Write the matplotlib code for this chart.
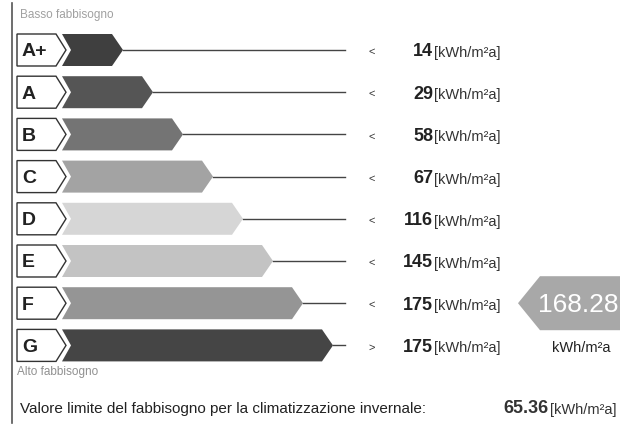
import matplotlib
matplotlib.use('Agg')
import matplotlib.pyplot as plt
import matplotlib.patches as patches

# Energy classes, limits and bar shades (scanned, grayscale)
classes = ['A+', 'A', 'B', 'C', 'D', 'E', 'F', 'G']
limits = ['14', '29', '58', '67', '116', '145', '175', '175']
signs = ['<', '<', '<', '<', '<', '<', '<', '>']
shades = ['#3f3f3f', '#555555', '#747474', '#a3a3a3', '#d6d6d6', '#c3c3c3', '#959595', '#454545']
building_value = '168.28'
building_class = 'F'
limit_value = '65.36'

plt.rcParams['font.family'] = ['Liberation Sans', 'DejaVu Sans']

def main():
    fig = plt.figure(figsize=(6.2, 4.27), dpi=100)
    ax = fig.add_axes([0, 0, 1, 1])
    ax.set_xlim(0, 620)
    ax.set_ylim(427, 0)
    ax.axis('off')

    # left rule
    ax.plot([12, 12], [4, 424], color='#555555', lw=1.2)

    ax.text(20, 15, 'Basso fabbisogno', fontsize=8.5, color='#a0a0a0', va='center')
    ax.text(17, 372, 'Alto fabbisogno', fontsize=8.5, color='#909090', va='center')

    h = 16
    for i, (cls, lim, sg, col) in enumerate(zip(classes, limits, signs, shades)):
        yc = 51 + i * 42.2
        tip = 123 + i * 30
        # class label box
        box = [(17, yc - h), (56, yc - h), (66, yc), (56, yc + h), (17, yc + h)]
        ax.add_patch(patches.Polygon(box, facecolor='white', edgecolor='#333333', lw=1.0))
        ax.text(22, yc + 1, cls, fontsize=14, fontweight='bold', color='#222222', va='center')
        # coloured arrow bar
        bar = [(62, yc - h), (tip - 11, yc - h), (tip, yc), (tip - 11, yc + h),
               (62, yc + h), (71, yc)]
        ax.add_patch(patches.Polygon(bar, facecolor=col, edgecolor='none'))
        ax.plot([tip, 345], [yc, yc], color='#444444', lw=1.0)
        # limit text
        ax.text(372, yc + 1, sg, fontsize=8, color='#333333', va='center', ha='center')
        ax.text(433, yc + 1, lim, fontsize=13, fontweight='bold', color='#222222',
                va='center', ha='right')
        ax.text(434, yc + 2, '[kWh/m²a]', fontsize=10.5, color='#333333', va='center', ha='left')

    # building indicator arrow
    yb = 51 + classes.index(building_class) * 42.2
    ind = [(518, yb), (540, yb - 27), (620, yb - 27), (620, yb + 27), (540, yb + 27)]
    ax.add_patch(patches.Polygon(ind, facecolor='#a8a8a8', edgecolor='none'))
    ax.text(578, yb + 1, building_value, fontsize=19, color='white', va='center', ha='center')
    ax.text(581, yb + 44, 'kWh/m²a', fontsize=10.5, color='#222222', va='center', ha='center')

    ax.text(20, 409, 'Valore limite del fabbisogno per la climatizzazione invernale:',
            fontsize=11, color='#222222', va='center')
    ax.text(548, 409, limit_value, fontsize=13, fontweight='bold', color='#333333',
            va='center', ha='right')
    ax.text(550, 410, '[kWh/m²a]', fontsize=10.5, color='#333333', va='center', ha='left')

    fig.savefig('out.png', dpi=100)

if __name__ == '__main__':
    main()
